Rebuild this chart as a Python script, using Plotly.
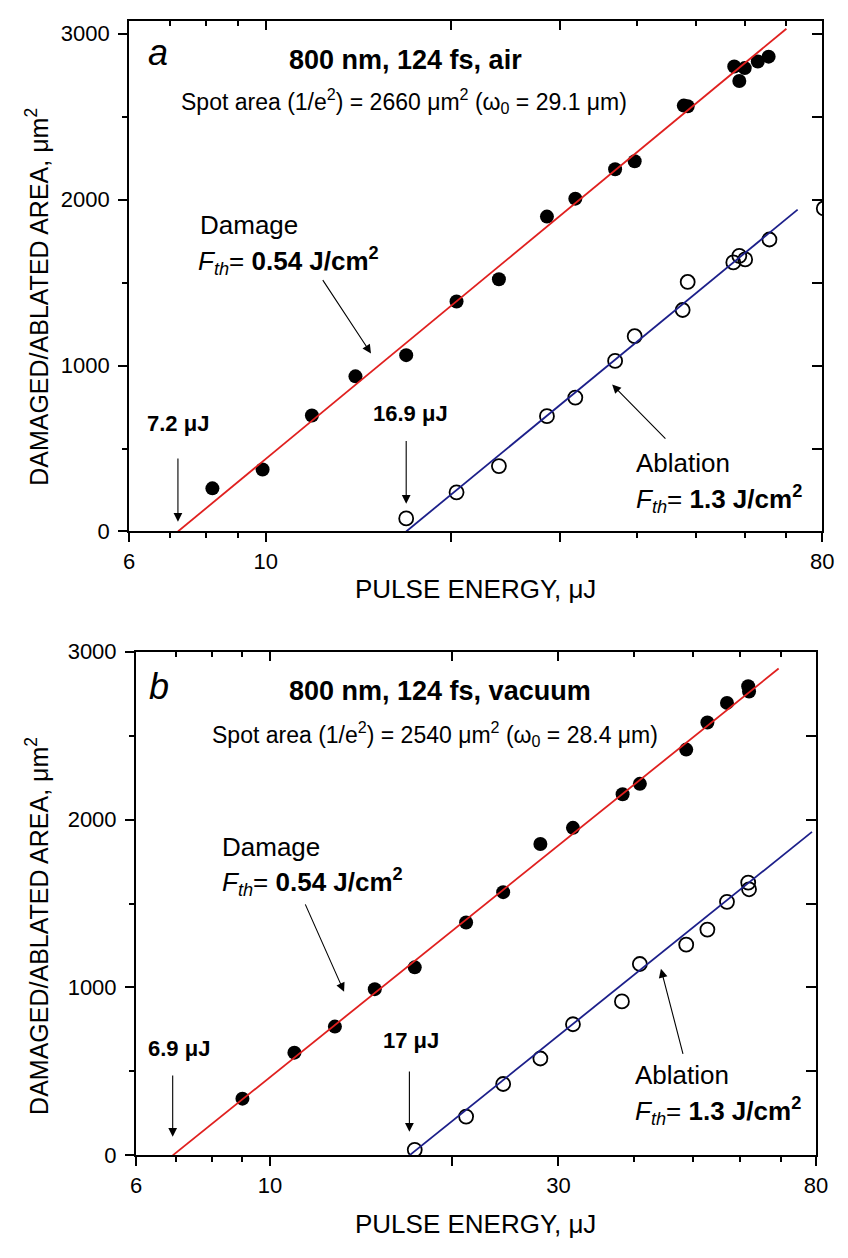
import math
import plotly.graph_objects as go

# ---------------- data ----------------
# Panel a (air)
a_dmg_x = [8.19, 9.88, 11.88, 13.98, 16.9, 20.4, 23.9, 28.6, 31.8, 36.9, 39.7, 47.7, 48.4, 57.6, 58.7, 59.9, 62.9, 65.5]
a_dmg_y = [260, 374, 699, 935, 1063, 1386, 1520, 1898, 2006, 2183, 2232, 2567, 2563, 2803, 2715, 2793, 2833, 2862]
a_abl_x = [16.9, 20.4, 23.9, 28.6, 31.8, 36.9, 39.7, 47.5, 48.4, 57.4, 58.7, 60.0, 65.7, 80.5]
a_abl_y = [79, 236, 394, 695, 807, 1028, 1177, 1335, 1504, 1622, 1661, 1640, 1760, 1947]
a_dmg_fit_x = [7.2, 70.0]
a_dmg_fit_y = [0, 3030]
a_abl_fit_x = [16.9, 73.0]
a_abl_fit_y = [0, 1940]

# Panel b (vacuum)
b_dmg_x = [9.0, 10.97, 12.8, 14.9, 17.35, 21.1, 24.3, 28.0, 31.7, 38.3, 40.9, 48.8, 52.9, 57.0, 61.8, 62.0]
b_dmg_y = [338, 612, 767, 990, 1120, 1387, 1568, 1855, 1951, 2151, 2213, 2417, 2578, 2695, 2795, 2763]
b_abl_x = [17.35, 21.1, 24.3, 28.0, 31.7, 38.2, 40.9, 48.8, 52.9, 57.0, 61.8, 62.0]
b_abl_y = [33, 231, 425, 577, 781, 917, 1140, 1255, 1345, 1510, 1625, 1585]
b_dmg_fit_x = [6.9, 69.4]
b_dmg_fit_y = [0, 2900]
b_abl_fit_x = [17.0, 78.8]
b_abl_fit_y = [0, 1927]

x_major = [6, 10, 20, 30, 80]
x_minor = [7, 8, 9, 40, 50, 60, 70]
a_xticktext = ["6", "10", "", "", "80"]
b_xticktext = ["6", "10", "", "30", "80"]
y_major = [0, 1000, 2000, 3000]
y_minor = [500, 1500, 2500]

XMIN, XMAX = 6, 80
FONT = "Liberation Sans, Arial, sans-serif"
RED = "#e0201f"
BLUE = "#1c1f8a"

# The page body keeps its default 8px margin, so the figure is 16px smaller than
# the window and all page positions are shifted by 8px.
W, H, OFF = 832, 1242, 8

def px(xp):
    return (xp - OFF) / W

def py(yp):
    return 1 - (yp - OFF) / H

def lx(frac):
    return math.log10(XMIN) + frac * (math.log10(XMAX) - math.log10(XMIN))

fig = go.Figure()

def add_panel(xa, ya, dx, dy, ax_, ay_, fx, fy, bx, by):
    fig.add_trace(go.Scatter(x=dx, y=dy, mode="markers", xaxis=xa, yaxis=ya,
                             marker=dict(symbol="circle", size=14, color="black"),
                             showlegend=False, hoverinfo="skip"))
    fig.add_trace(go.Scatter(x=ax_, y=ay_, mode="markers", xaxis=xa, yaxis=ya,
                             marker=dict(symbol="circle-open", size=14, color="black", line=dict(width=1.8)),
                             showlegend=False, hoverinfo="skip"))
    fig.add_trace(go.Scatter(x=fx, y=fy, mode="lines", xaxis=xa, yaxis=ya,
                             line=dict(color=RED, width=1.8), showlegend=False, hoverinfo="skip"))
    fig.add_trace(go.Scatter(x=bx, y=by, mode="lines", xaxis=xa, yaxis=ya,
                             line=dict(color=BLUE, width=1.8), showlegend=False, hoverinfo="skip"))

add_panel("x", "y", a_dmg_x, a_dmg_y, a_abl_x, a_abl_y, a_dmg_fit_x, a_dmg_fit_y, a_abl_fit_x, a_abl_fit_y)
add_panel("x2", "y2", b_dmg_x, b_dmg_y, b_abl_x, b_abl_y, b_dmg_fit_x, b_dmg_fit_y, b_abl_fit_x, b_abl_fit_y)
# empty traces so the mirrored (top/right) axes are instantiated
for xa, ya in [("x3", "y3"), ("x4", "y4")]:
    fig.add_trace(go.Scatter(x=[], y=[], xaxis=xa, yaxis=ya, showlegend=False, hoverinfo="skip"))

xr = [math.log10(XMIN), math.log10(XMAX)]

def xbottom(domain, anchor, ticktext):
    return dict(type="log", range=xr, domain=domain, anchor=anchor,
                showline=True, linewidth=2, linecolor="black", mirror=False,
                ticks="outside", ticklen=9, tickwidth=1.5, tickcolor="black",
                tickmode="array", tickvals=x_major, ticktext=ticktext,
                minor=dict(tickmode="array", tickvals=x_minor, ticks="outside", ticklen=5, tickwidth=1.5, tickcolor="black"),
                showgrid=False, zeroline=False,
                tickfont=dict(family=FONT, size=22, color="black"))

def xtop(over, anchor):
    return dict(type="log", range=xr, overlaying=over, anchor=anchor, side="top",
                showline=True, linewidth=2, linecolor="black",
                ticks="inside", ticklen=9, tickwidth=1.5, tickcolor="black",
                tickmode="array", tickvals=[10, 20, 30], showticklabels=False,
                minor=dict(tickmode="array", tickvals=x_minor, ticks="inside", ticklen=5, tickwidth=1.5, tickcolor="black"),
                showgrid=False, zeroline=False)

def yleft(domain, anchor, rng):
    return dict(range=rng, domain=domain, anchor=anchor,
                showline=True, linewidth=2, linecolor="black",
                ticks="outside", ticklen=9, tickwidth=1.5, tickcolor="black",
                tickmode="array", tickvals=y_major, ticktext=[str(v) for v in y_major],
                minor=dict(tickmode="array", tickvals=y_minor, ticks="outside", ticklen=5, tickwidth=1.5, tickcolor="black"),
                showgrid=False, zeroline=False, ticklabelstandoff=4,
                tickfont=dict(family=FONT, size=22, color="black"))

def yright(over, anchor, rng):
    return dict(range=rng, overlaying=over, anchor=anchor, side="right",
                showline=True, linewidth=2, linecolor="black",
                ticks="inside", ticklen=10, tickwidth=1.5, tickcolor="black",
                tickmode="array", tickvals=y_minor + y_major, showticklabels=False,
                showgrid=False, zeroline=False)

a_xdom = [px(125.7), px(834)]
a_ydom = [py(530), py(9)]
b_xdom = [px(132.7), px(827.7)]
b_ydom = [py(1166.7), py(652.7)]
a_yr = [0, 3077]
b_yr = [0, 3000]

fig.update_layout(
    width=W, height=H,
    margin=dict(l=0, r=0, t=0, b=0),
    paper_bgcolor="white", plot_bgcolor="white",
    font=dict(family=FONT, color="black"),
    xaxis=xbottom(a_xdom, "y", a_xticktext),
    yaxis=yleft(a_ydom, "x", a_yr),
    xaxis2=xbottom(b_xdom, "y2", b_xticktext),
    yaxis2=yleft(b_ydom, "x2", b_yr),
    xaxis3=xtop("x", "y"),
    yaxis3=yright("y", "x", a_yr),
    xaxis4=xtop("x2", "y2"),
    yaxis4=yright("y2", "x2", b_yr),
)

ann = []

def text(xref, yref, fx, y, s, size, xanchor="left", yanchor="middle"):
    ann.append(dict(xref=xref, yref=yref, x=lx(fx), y=y, text=s, showarrow=False,
                    xanchor=xanchor, yanchor=yanchor, font=dict(family=FONT, size=size, color="black")))

def arrow(xref, yref, tipx, tipy, tailx, taily):
    ann.append(dict(xref=xref, yref=yref, axref=xref, ayref=yref,
                    x=tipx, y=tipy, ax=tailx, ay=taily, text="", showarrow=True,
                    arrowhead=2, arrowsize=1.6, arrowwidth=1.1, arrowcolor="black", standoff=0, startstandoff=0))

def fr(v):
    return (math.log10(v) - math.log10(XMIN)) / (math.log10(XMAX) - math.log10(XMIN))

# panel a
text("x", "y", 0.041, 2886, "<i>a</i>", 36, "center")
text("x", "y", 0.399, 2839, "<b>800 nm, 124 fs, air</b>", 27, "center")
text("x", "y", 0.397, 2597, "Spot area (1/e<sup>2</sup>) = 2660 μm<sup>2</sup> (ω<sub>0</sub> = 29.1 μm)", 23, "center")
text("x", "y", 0.099, 1848, "Damage", 26)
text("x", "y", 0.097, 1632, "<i>F</i><sub><i>th</i></sub>= <b>0.54 J/cm<sup>2</sup></b>", 26)
arrow("x", "y", lx(0.349), 1073, lx(0.278), 1524)
text("x", "y", fr(7.2), 650, "<b>7.2 μJ</b>", 22, "center")
arrow("x", "y", math.log10(7.2), 59, math.log10(7.2), 449)
text("x", "y", fr(16.9) + 0.006, 709, "<b>16.9 μJ</b>", 22, "center")
arrow("x", "y", math.log10(16.9), 167, math.log10(16.9), 555)
text("x", "y", 0.728, 413, "Ablation", 26)
text("x", "y", 0.728, 197, "<i>F</i><sub><i>th</i></sub>= <b>1.3 J/cm<sup>2</sup></b>", 26)
arrow("x", "y", lx(0.697), 886, lx(0.776), 551)

# panel b
text("x2", "y2", 0.034, 2792, "<i>b</i>", 36, "center")
text("x2", "y2", 0.447, 2767, "<b>800 nm, 124 fs, vacuum</b>", 27, "center")
text("x2", "y2", 0.44, 2510, "Spot area (1/e<sup>2</sup>) = 2540 μm<sup>2</sup> (ω<sub>0</sub> = 28.4 μm)", 23, "center")
text("x2", "y2", 0.123, 1834, "Damage", 26)
text("x2", "y2", 0.123, 1626, "<i>F</i><sub><i>th</i></sub>= <b>0.54 J/cm<sup>2</sup></b>", 26)
arrow("x2", "y2", lx(0.306), 975, lx(0.248), 1504)
text("x2", "y2", fr(6.9) + 0.01, 635, "<b>6.9 μJ</b>", 22, "center")
arrow("x2", "y2", math.log10(6.9), 111, math.log10(6.9), 485)
text("x2", "y2", fr(17.0) + 0.003, 683, "<b>17 μJ</b>", 22, "center")
arrow("x2", "y2", math.log10(17.0), 140, math.log10(17.0), 509)
text("x2", "y2", 0.731, 480, "Ablation", 26)
text("x2", "y2", 0.731, 266, "<i>F</i><sub><i>th</i></sub>= <b>1.3 J/cm<sup>2</sup></b>", 26)
arrow("x2", "y2", lx(0.772), 1111, lx(0.805), 596)

# axis titles
ytitle = "DAMAGED/ABLATED AREA, μm<sup>2</sup>"
xtitle = "PULSE ENERGY, μJ"
for yc in [290, 932]:
    ann.append(dict(xref="paper", yref="paper", x=px(32), y=py(yc), text=ytitle, textangle=-90,
                    showarrow=False, xanchor="center", yanchor="middle",
                    font=dict(family=FONT, size=25, color="black")))
for xc, yc in [((125.7 + 834) / 2, 589), ((132.7 + 827.7) / 2, 1237)]:
    ann.append(dict(xref="paper", yref="paper", x=px(xc), y=py(yc), text=xtitle,
                    showarrow=False, xanchor="center", yanchor="middle",
                    font=dict(family=FONT, size=26, color="black")))

fig.update_layout(annotations=ann)

fig.write_html("out.html", config={"displayModeBar": False})
